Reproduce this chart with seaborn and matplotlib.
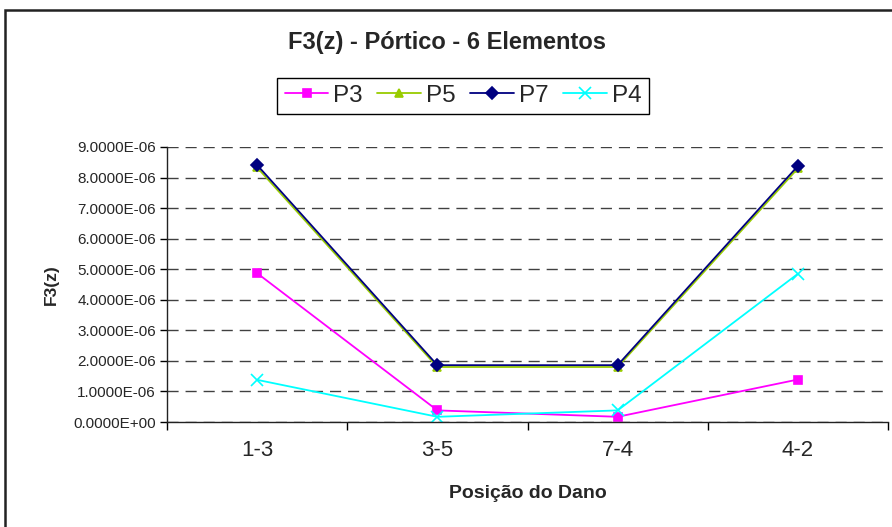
import matplotlib
matplotlib.use('Agg')
import matplotlib.pyplot as plt
from matplotlib.patches import Rectangle
from matplotlib.ticker import FuncFormatter, FixedLocator
import seaborn as sns
import pandas as pd

# data
positions = ['1-3', '3-5', '7-4', '4-2']
p3 = [4.87e-6, 0.38e-6, 0.17e-6, 1.39e-6]
p5 = [8.33e-6, 1.80e-6, 1.80e-6, 8.30e-6]
p7 = [8.41e-6, 1.86e-6, 1.86e-6, 8.38e-6]
p4 = [1.38e-6, 0.17e-6, 0.38e-6, 4.85e-6]
series = ['P3', 'P5', 'P7', 'P4']
colors = {'P3': '#FF00FF', 'P5': '#99CC00', 'P7': '#000080', 'P4': '#00FFFF'}
markers = {'P3': 's', 'P5': '^', 'P7': 'D', 'P4': 'x'}
msizes = {'P3': 6, 'P5': 6, 'P7': 6, 'P4': 8}

rows = []
for name, vals in zip(series, [p3, p5, p7, p4]):
    for i, v in enumerate(vals):
        rows.append({'pos': i, 'label': positions[i], 'serie': name, 'F3': v})
df = pd.DataFrame(rows)

sns.set_style('white')
plt.rcParams['font.family'] = ['Liberation Sans', 'DejaVu Sans']

fig = plt.figure(figsize=(8.92, 5.27), dpi=100)
ax = fig.add_axes([167/892, 1 - 422/527, (888 - 167)/892, (422 - 147)/527])

for name in series:
    sns.lineplot(data=df[df['serie'] == name], x='pos', y='F3', color=colors[name],
                 marker=markers[name], markersize=msizes[name], markeredgewidth=1.2,
                 markeredgecolor=colors[name], linewidth=1.3, label=name, ax=ax)

ax.set_xlim(-0.5, 3.5)
ax.set_ylim(0, 9e-6)
ax.set_yticks([i * 1e-6 for i in range(10)])
ax.yaxis.set_major_formatter(FuncFormatter(lambda v, p: '{:.4E}'.format(0.0 if abs(v) < 1e-12 else v)))
ax.set_xticks(range(len(positions)))
ax.set_xticklabels(positions, fontsize=16)
ax.xaxis.set_minor_locator(FixedLocator([-0.5, 0.5, 1.5, 2.5, 3.5]))
ax.tick_params(axis='x', which='major', length=0, pad=13)
ax.tick_params(axis='x', which='minor', length=6, width=1, color='black', direction='out')
ax.tick_params(axis='y', length=5, width=1, color='black', direction='out', labelsize=11, pad=3)
ax.yaxis.set_ticks_position('left')
ax.xaxis.set_ticks_position('bottom')

ax.grid(axis='y', color='black', linestyle=(0, (8, 5)), linewidth=1, alpha=0.75)
ax.set_axisbelow(True)
for s in ['top', 'right']:
    ax.spines[s].set_visible(False)
for s in ['left', 'bottom']:
    ax.spines[s].set_color('#222222')
    ax.spines[s].set_linewidth(1)

ax.set_xlabel('Posição do Dano', fontsize=14, fontweight='bold', labelpad=17)
ax.set_ylabel('F3(z)', fontsize=12.5, fontweight='bold', labelpad=10)

handles, labels = ax.get_legend_handles_labels()
ax.legend(handles, labels, ncol=4, loc='center', bbox_to_anchor=(463/892, 1 - 96/527),
          bbox_transform=fig.transFigure, fontsize=17.5, frameon=True, fancybox=False,
          edgecolor='black', handlelength=1.8, handletextpad=0.2, columnspacing=0.6,
          borderpad=0.3, framealpha=1)
ax.get_legend().get_frame().set_linewidth(1)

fig.text(447/892, 1 - 43/527, 'F3(z) - Pórtico - 6 Elementos', ha='center', va='center',
         fontsize=17, fontweight='bold')

fig.patches.append(Rectangle((5/892, -0.1), 1.2, 1 - 10/527 + 0.1, transform=fig.transFigure,
                             fill=False, edgecolor='#222222', linewidth=1.8))

fig.savefig('out.png', dpi=100)
